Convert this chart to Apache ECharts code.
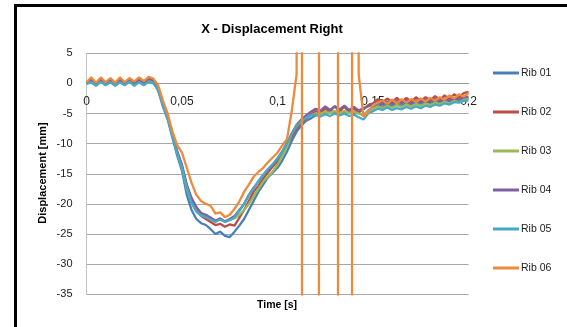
<!DOCTYPE html>
<html>
<head>
<meta charset="utf-8">
<script src="https://cdn.jsdelivr.net/npm/echarts@6/dist/echarts.min.js"></script>
<style>
html,body{margin:0;padding:0;background:#fff;}
#chart{width:567px;height:327px;}
</style>
</head>
<body>
<div id="chart"></div>
<script>
// time step 0.0025 s, 81 samples from 0 to 0.2 s
var timeStart = 0, timeStep = 0.0025, sampleCount = 81;
var xTicks = ['0', '0,05', '0,1', '0,15', '0,2'];
var seriesNames = ['Rib 01', 'Rib 02', 'Rib 03', 'Rib 04', 'Rib 05', 'Rib 06'];

var rib01 = [0, 0.4, -0.1, 0.5, -0.1, 0.4, -0.2, 0.5, -0.1, 0.4, -0.1, 0.5, 0, 0.6, 0.3,
  -1.2, -3.8, -6, -9, -12, -14.5, -18.5, -21, -22.5, -23.2, -23.5, -24.2, -25, -24.6, -25.3, -25.5,
  -24.6, -23.6, -22.5, -21, -19.5, -18, -16.8, -15.6, -14.8, -14, -12.8, -11.3, -9.5, -8, -7,
  -6.2, -5.8, -5.3, -5, -4.8, -4.6, -4.8, -4.5, -4.9, -4.6, -5, -4.9, -5.3, -4.5, -4,
  -3.6, -3.9, -3.4, -3.8, -3.3, -3.7, -3.2, -3.6, -3.1, -3.5, -3, -3.4, -2.9, -3.3, -2.8, -3.1, -2.7, -3, -2.6, -2.5];

var rib02 = [0.1, 0.5, 0, 0.6, 0, 0.5, -0.1, 0.6, 0, 0.5, 0, 0.6, 0.1, 0.7, 0.4,
  -0.9, -3.3, -5.6, -8.5, -11.3, -13.8, -17, -19.5, -21, -22, -22.5, -23, -23.5, -23.3, -23.8, -23.4,
  -23.6, -22.3, -21, -19.5, -18, -17, -15.8, -14.8, -13.8, -13, -11.8, -10.3, -8.8, -7.5, -6.5,
  -5.8, -5.2, -4.6, -4.9, -4.2, -4.6, -3.8, -4.6, -3.9, -4.7, -4.2, -4.8, -4.3, -3.6, -3.3,
  -2.6, -3.2, -2.5, -3.1, -2.4, -3.1, -2.4, -3, -2.3, -2.9, -2.3, -2.8, -2.1, -2.7, -2, -2.6, -1.8, -2.4, -1.6, -1.4];

var rib03 = [0, 0.4, -0.2, 0.4, -0.2, 0.4, -0.2, 0.4, -0.2, 0.4, -0.2, 0.4, -0.1, 0.5, 0.3,
  -1, -3.5, -5.8, -8.8, -11.5, -14, -17.5, -19.8, -21.2, -21.8, -22, -22.3, -22.8, -22.5, -23, -22.6,
  -22.4, -21.8, -21, -20, -18.8, -17.5, -16.3, -15.5, -14.6, -13.5, -12, -10.5, -8.3, -6.8, -6,
  -5.6, -5.3, -5, -5, -4.7, -4.9, -4.6, -4.9, -4.6, -4.9, -4.7, -5, -5.2, -4.6, -4.2,
  -3.8, -4.1, -3.7, -4, -3.6, -3.9, -3.5, -3.8, -3.4, -3.7, -3.3, -3.6, -3.2, -3.4, -3, -3.3, -2.9, -3.1, -2.7, -2.5];

var rib04 = [0.1, 0.6, 0, 0.6, 0, 0.6, 0, 0.6, 0, 0.6, 0, 0.6, 0.1, 0.8, 0.5,
  -0.8, -3.4, -5.6, -8.6, -11.3, -13.5, -16.8, -19, -20.5, -21.5, -21.8, -22.3, -22.8, -22.4, -22.9, -22.5,
  -22, -21, -20, -18.5, -17.3, -16.3, -15.2, -14.3, -13.5, -12.5, -11.3, -9.8, -8.3, -7, -6,
  -5.3, -4.7, -4.2, -4.5, -3.8, -4.4, -3.8, -4.3, -3.7, -4.4, -3.9, -4.5, -4.1, -3.8, -3.5,
  -3.1, -3.5, -3, -3.4, -2.9, -3.3, -2.8, -3.3, -2.8, -3.2, -2.7, -3.1, -2.6, -3, -2.5, -2.9, -2.4, -2.7, -2.3, -2.2];

var rib05 = [-0.1, 0.2, -0.4, 0.3, -0.3, 0.2, -0.4, 0.2, -0.3, 0.3, -0.4, 0.2, -0.3, 0.3, 0,
  -1, -3.5, -5.7, -8.8, -11.6, -14, -17.2, -19.8, -21.3, -22, -22.2, -22.6, -23, -22.6, -23, -22.7,
  -22.2, -21.2, -20, -18.6, -17.4, -16.2, -15.2, -14.2, -13.4, -12.4, -11.3, -9.8, -8.4, -7.1, -6.3,
  -5.7, -5.3, -5.2, -5.5, -5.1, -5.4, -5, -5.3, -5, -5.4, -5.2, -5.6, -6, -5, -4.6,
  -4.2, -4.4, -4, -4.4, -4.1, -4.3, -3.9, -4.2, -3.8, -4.1, -3.7, -3.9, -3.5, -3.7, -3.3, -3.5, -3.1, -3.2, -2.9, -2.8];

var rib06 = [0.2, 1.0, 0.1, 1.0, 0.2, 0.9, 0.1, 1.0, 0.2, 0.9, 0.3, 1.0, 0.4, 1.1, 0.8,
  -0.3, -2.8, -5, -8, -10.3, -11.5, -14, -16.5, -18.5, -19.5, -20, -20.3, -21.6, -21.4, -22.2, -21.8,
  -20.8, -19.6, -18, -16.8, -15.5, -14.7, -14, -13.1, -12.3, -11.5, -10.3, -9.2, -4.5, 1.5, 430,
  -3000, -3000, -3000, 1350, 3000, 3000, 3000, -1500, -3000, -3000, 1900, 1.5, -5.5, -4.8, -3.6,
  -3.2, -2.8, -3.4, -2.7, -3.3, -2.6, -3.2, -2.6, -3.1, -2.5, -3, -2.4, -2.9, -2.3, -2.7, -2, -2.5, -1.8, -2.2, -1.6];

var allValues = [rib01, rib02, rib03, rib04, rib05, rib06];
var colors = ['#4A7EBB', '#BE4B48', '#98B954', '#7D60A0', '#46AAC5', '#EE8A3C'];

var times = [];
for (var i = 0; i < sampleCount; i++) times.push(+(timeStart + i * timeStep).toFixed(4));

var gridTop = 53.3, gridBottom = 32.7, yMin = -35, yMax = 5;
var plotH = 327 - gridTop - gridBottom;
var zeroOffset = -plotH * (0 - yMin) / (yMax - yMin); // lift x axis to y = 0

var chart = echarts.init(document.getElementById('chart'), null, {renderer: 'canvas'});
var FONT = 'Liberation Sans';
var series = seriesNames.map(function (name, si) {
  return {
    name: name,
    type: 'line',
    data: times.map(function (t, i) { return [t, allValues[si][i]]; }),
    showSymbol: false,
    symbol: 'none',
    clip: true,
    lineStyle: {color: colors[si], width: 2.3},
    itemStyle: {color: colors[si]},
    z: 2 + si
  };
});

chart.setOption({
  animation: false,
  backgroundColor: '#fff',
  title: {
    text: 'X - Displacement Right',
    left: 267, top: 18, textAlign: 'center',
    textStyle: {fontFamily: FONT, fontSize: 13, fontWeight: 'bold', color: '#000'}
  },
  legend: {
    orient: 'vertical',
    left: 488, top: 61,
    itemWidth: 26, itemHeight: 3, itemGap: 25,
    icon: 'rect',
    data: seriesNames,
    textStyle: {fontFamily: FONT, fontSize: 10.5, color: '#222', lineHeight: 14, padding: [0, 0, 0, -3]}
  },
  grid: {left: 86.5, right: 98.5, top: gridTop, bottom: gridBottom, containLabel: false},
  xAxis: {
    type: 'value', min: 0, max: 0.2, interval: 0.05,
    position: 'bottom',
    offset: zeroOffset,
    axisLine: {onZero: false, lineStyle: {color: '#9a9a9a', width: 1}},
    axisTick: {show: false},
    splitLine: {show: false},
    axisLabel: {
      margin: 12, fontFamily: FONT, fontSize: 12, color: '#222',
      formatter: function (v) { var idx = Math.round(v / 0.05); return xTicks[idx] !== undefined ? xTicks[idx] : ''; }
    }
  },
  yAxis: {
    type: 'value', min: yMin, max: yMax, interval: 5,
    axisLine: {show: true, onZero: false, lineStyle: {color: '#c4c4c4', width: 1}},
    axisTick: {show: false},
    splitLine: {show: true, lineStyle: {color: '#a8a8a8', width: 1}},
    axisLabel: {margin: 14, fontFamily: FONT, fontSize: 11, color: '#222'}
  },
  graphic: [
    {type: 'line', shape: {x1: 15.5, y1: 4, x2: 15.5, y2: 327}, style: {stroke: '#000', lineWidth: 3}},
    {type: 'line', shape: {x1: 14, y1: 5.5, x2: 567, y2: 5.5}, style: {stroke: '#000', lineWidth: 3}},
    {type: 'text', left: 257, top: 300, style: {text: 'Time [s]', font: 'bold 10.5px "Liberation Sans"', fill: '#000'}},
    {type: 'text', x: 43, y: 173, rotation: Math.PI / 2,
      style: {text: 'Displacement [mm]', font: 'bold 11px "Liberation Sans"', fill: '#000', align: 'center', verticalAlign: 'middle'}}
  ],
  series: series
});
</script>
</body>
</html>
